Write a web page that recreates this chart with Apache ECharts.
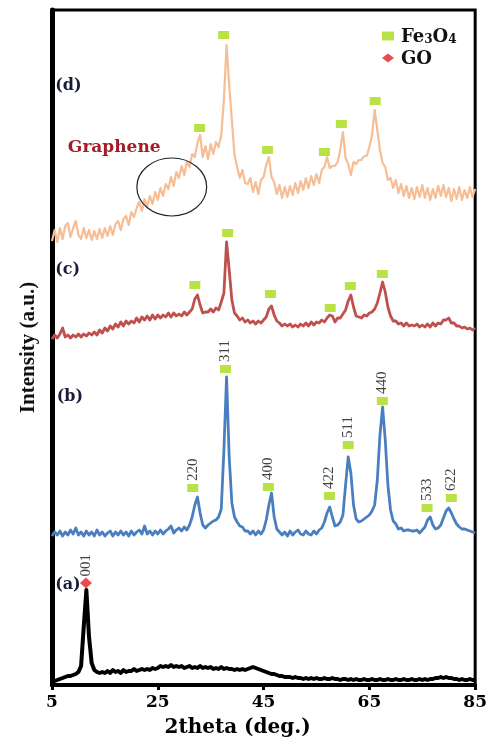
<!DOCTYPE html>
<html>
<head>
<meta charset="utf-8">
<script src="https://cdn.jsdelivr.net/npm/echarts@6/dist/echarts.min.js"></script>
<style>
  html, body { margin: 0; padding: 0; background: #fff; }
  #chart { width: 490px; height: 745px; }
</style>
</head>
<body>
<div id="chart"></div>
<script>
// 2θ sampling positions (degrees)
const twoTheta = [
  5, 5.5, 6, 6.5, 7, 7.5, 8, 8.5, 9, 9.5,
  10, 10.5, 11, 11.5, 12, 12.5, 13, 13.5, 14, 14.5,
  15, 15.5, 16, 16.5, 17, 17.5, 18, 18.5, 19, 19.5,
  20, 20.5, 21, 21.5, 22, 22.5, 23, 23.5, 24, 24.5,
  25, 25.5, 26, 26.5, 27, 27.5, 28, 28.5, 29, 29.5,
  30, 30.5, 31, 31.5, 32, 32.5, 33, 33.5, 34, 34.5,
  35, 35.5, 36, 36.5, 37, 37.5, 38, 38.5, 39, 39.5,
  40, 40.5, 41, 41.5, 42, 42.5, 43, 43.5, 44, 44.5,
  45, 45.5, 46, 46.5, 47, 47.5, 48, 48.5, 49, 49.5,
  50, 50.5, 51, 51.5, 52, 52.5, 53, 53.5, 54, 54.5,
  55, 55.5, 56, 56.5, 57, 57.5, 58, 58.5, 59, 59.5,
  60, 60.5, 61, 61.5, 62, 62.5, 63, 63.5, 64, 64.5,
  65, 65.5, 66, 66.5, 67, 67.5, 68, 68.5, 69, 69.5,
  70, 70.5, 71, 71.5, 72, 72.5, 73, 73.5, 74, 74.5,
  75, 75.5, 76, 76.5, 77, 77.5, 78, 78.5, 79, 79.5,
  80, 80.5, 81, 81.5, 82, 82.5, 83, 83.5, 84, 84.5,
  85
];

// (a) GO — stacked intensity, a.u.
const patternGO = [
  3, 4, 5, 6, 7, 8, 9, 9, 10, 11,
  13, 19, 58, 95, 48, 22, 15, 13, 12, 13,
  12, 14, 12, 15, 13, 14, 12, 15, 13, 14,
  14, 16, 14, 15, 16, 15, 16, 15, 17, 16,
  17, 19, 18, 19, 18, 20, 18, 19, 18, 19,
  17, 18, 19, 17, 18, 17, 19, 17, 18, 17,
  18, 16, 17, 16, 18, 16, 17, 16, 16, 15,
  16, 15, 16, 15, 16, 17, 18, 17, 16, 15,
  14, 13, 12, 11, 11, 10, 9, 9, 8, 8,
  8, 7, 8, 7, 7, 6, 7, 6, 7, 6,
  7, 6, 6, 7, 6, 6, 7, 6, 6, 5,
  6, 6, 5, 6, 5, 6, 5, 5, 6, 5,
  5, 6, 5, 5, 6, 5, 5, 6, 5, 5,
  6, 5, 5, 6, 5, 5, 6, 5, 5, 6,
  5, 6, 5, 6, 6, 7, 7, 8, 7, 8,
  7, 7, 6, 6, 5, 6, 5, 5, 6, 5,
  5
];

// (b) Fe3O4
const patternFe3O4 = [
  149, 153, 150, 154, 149, 153, 150, 155, 151, 157,
  150, 153, 149, 154, 150, 153, 149, 155, 150, 153,
  149, 152, 154, 149, 153, 150, 154, 150, 153, 149,
  154, 150, 153, 155, 151, 159, 151, 154, 150, 154,
  151, 155, 151, 154, 156, 159, 152, 155, 157, 154,
  158, 155, 160, 168, 180, 188, 172, 160, 157, 160,
  162, 164, 165, 168, 176, 235, 308, 228, 182, 168,
  163, 159, 158, 154, 154, 151, 154, 150, 154, 151,
  155, 165, 180, 192, 168, 156, 153, 150, 153, 149,
  154, 150, 153, 155, 151, 150, 154, 151, 150, 154,
  151, 155, 157, 163, 172, 178, 168, 159, 160, 163,
  170, 200, 228, 212, 180, 166, 163, 164, 166, 168,
  170, 174, 180, 205, 250, 278, 245, 200, 175, 164,
  161, 156, 157, 154, 155, 155, 154, 154, 155, 152,
  155, 158, 165, 168, 160, 156, 157, 160, 167, 174,
  177, 172, 166, 161, 158, 156, 156, 155, 154, 153,
  152
];

// (c) Fe3O4/GO composite
const patternComposite = [
  346, 350, 347, 351, 357, 348, 350, 347, 350, 348,
  351, 348, 351, 349, 352, 350, 353, 350, 355, 352,
  357, 354, 359, 356, 361, 358, 363, 359, 364, 361,
  364, 362, 367, 363, 368, 365, 369, 365, 370, 366,
  370, 367, 370, 368, 372, 368, 372, 369, 371, 369,
  373, 370, 373, 376, 386, 390, 380, 372, 373, 373,
  376, 373, 377, 375, 383, 392, 443, 415, 385, 372,
  369, 365, 367, 363, 365, 362, 364, 361, 364, 362,
  365, 368, 376, 379, 370, 364, 362, 359, 361, 359,
  361, 358, 360, 358, 361, 359, 362, 359, 363, 360,
  363, 362, 365, 363, 367, 370, 369, 363, 367, 367,
  371, 375, 384, 390, 378, 369, 368, 367, 370, 369,
  372, 373, 376, 382, 392, 403, 393, 378, 369, 364,
  364, 361, 362, 359, 362, 359, 360, 359, 361, 358,
  360, 358, 361, 358, 362, 359, 362, 361, 365, 365,
  367, 362, 362, 359, 359, 357, 358, 356, 357, 355,
  357
];

// (d) Fe3O4/graphene composite
const patternGraphene = [
  444, 455, 443, 457, 446, 459, 462, 448, 457, 464,
  450, 446, 457, 447, 455, 445, 454, 446, 456, 447,
  457, 449, 459, 450, 461, 464, 455, 466, 469, 460,
  473, 468, 477, 483, 474, 486, 478, 489, 481, 493,
  485, 497, 489, 501, 496, 508, 499, 513, 507, 519,
  510, 523, 518, 531, 528, 542, 550, 528, 539, 526,
  541, 531, 543, 538, 550, 585, 640, 600, 565, 530,
  518, 507, 515, 502, 501, 507, 493, 503, 491, 505,
  508, 520, 528, 508, 503, 491, 500, 487, 498, 488,
  499, 490, 502, 492, 504, 495, 507, 497, 509, 500,
  511, 502, 515, 518, 528, 517, 519, 519, 523, 535,
  553, 527, 521, 510, 523, 521, 525, 525, 529, 529,
  538, 550, 575, 555, 535, 522, 518, 505, 507, 497,
  505, 492, 501, 489, 499, 487, 497, 486, 498, 488,
  500, 487, 497, 485, 496, 487, 499, 489, 500, 488,
  497, 484, 496, 486, 498, 485, 495, 487, 498, 488,
  496
];

// Fe3O4 reflection markers [2θ, height] for each pattern
const feMarksD = [[32.9, 557], [37.45, 650], [45.75, 535], [56.5, 533], [59.7, 561], [66.1, 584]];
const feMarksC = [[32.0, 400], [38.2, 452], [46.3, 391], [57.6, 377], [61.4, 399], [67.45, 411]];
const feMarksB = [[31.6, 197], [37.8, 316], [45.9, 198], [57.45, 189], [61.0, 240], [67.45, 284], [75.9, 177], [80.5, 187]];
const hklB = ['220', '311', '400', '422', '511', '440', '533', '622'];

// GO (001) reflection marker
const goMark = [11.42, 102];
const goHkl = '001';

// x-axis ticks
const xTicks = [5, 25, 45, 65, 85];

// panel tags and annotations, in data coordinates
const panelTags = ['(a)', '(b)', '(c)', '(d)'];
const panelTagPos = [[5.6, 100], [5.9, 288], [5.6, 415], [5.6, 599]];
const grapheneTextPos = [8.0, 537];
const grapheneRing = { center: [27.64, 498], rx: 6.6, ry: 29 };

const serifWide = '"DejaVu Serif", serif';
const serifTimes = '"Liberation Serif", "Times New Roman", serif';

const chart = echarts.init(document.getElementById('chart'), null, { renderer: 'canvas' });

const toPairs = arr => twoTheta.map((t, i) => [t, arr[i]]);

const lineSeries = (name, arr, color, width) => ({
  name, type: 'line', data: toPairs(arr), symbol: 'none', silent: true,
  lineStyle: { color, width, join: 'round' }, z: 3
});

const hklLabel = {
  show: true, position: 'top', rotate: 90, align: 'left', verticalAlign: 'middle',
  distance: 3, fontFamily: serifTimes, fontSize: 15, color: '#111'
};

const feData = [
  ...feMarksD.map(p => ({ value: p })),
  ...feMarksC.map(p => ({ value: p })),
  ...feMarksB.map((p, i) => ({ value: p, label: Object.assign({ formatter: hklB[i] }, hklLabel) }))
];

chart.setOption({
  animation: false,
  grid: { left: 52, right: 14, top: 10, bottom: 60, show: true, borderColor: '#000', borderWidth: 3 },
  xAxis: {
    type: 'value', min: xTicks[0], max: xTicks[xTicks.length - 1], interval: 20,
    name: '2theta (deg.)', nameLocation: 'middle', nameGap: 33,
    nameTextStyle: { fontFamily: serifWide, fontWeight: 'bold', fontSize: 20, color: '#000', padding: [0, 52, 0, 0] },
    axisLine: { lineStyle: { color: '#000', width: 4 } },
    axisTick: { show: true, inside: false, length: 5, lineStyle: { color: '#000', width: 3 } },
    axisLabel: { fontFamily: serifWide, fontWeight: 'bold', fontSize: 17, color: '#000', margin: 9 },
    splitLine: { show: false }
  },
  yAxis: {
    type: 'value', min: 0, max: 675,
    name: 'Intensity (a.u.)', nameLocation: 'middle', nameGap: 13,
    nameTextStyle: { fontFamily: serifTimes, fontWeight: 'bold', fontSize: 21, color: '#111' },
    axisLine: { show: true, lineStyle: { color: '#000', width: 5 } },
    axisTick: { show: false },
    axisLabel: { show: false },
    splitLine: { show: false }
  },
  legend: {
    orient: 'vertical', left: 377, top: 23, itemGap: 4,
    itemWidth: 12, itemHeight: 9,
    data: [{ name: 'Fe3O4', icon: 'rect' }, { name: 'GO', icon: 'diamond' }],
    formatter: n => n === 'Fe3O4' ? '{b|Fe}{s|3}{b|O}{s|4}' : '{b|GO}',
    textStyle: {
      padding: [0, 0, 0, 2],
      rich: {
        b: { fontFamily: serifWide, fontWeight: 'bold', fontSize: 18, lineHeight: 20, color: '#111', verticalAlign: 'bottom' },
        s: { fontFamily: serifWide, fontWeight: 'bold', fontSize: 12, lineHeight: 14, color: '#111', verticalAlign: 'bottom' }
      }
    }
  },
  series: [
    lineSeries('(a)', patternGO, '#000000', 4),
    lineSeries('(b)', patternFe3O4, '#4a7fbf', 2.8),
    lineSeries('(c)', patternComposite, '#c0504d', 2.8),
    lineSeries('(d)', patternGraphene, '#f7bd95', 2.2),
    {
      name: 'Fe3O4', type: 'scatter', symbol: 'rect', symbolSize: [11, 8],
      itemStyle: { color: '#a8dc16' }, data: feData, label: { show: false }, z: 5, silent: true
    },
    {
      name: 'GO', type: 'scatter', symbol: 'diamond', symbolSize: [12, 11],
      itemStyle: { color: '#e51e25' },
      data: [{ value: goMark, label: Object.assign({ formatter: goHkl }, hklLabel, { distance: 1 }) }],
      z: 5, silent: true
    }
  ]
});

// annotations placed from data coordinates
const toPx = p => chart.convertToPixel({ gridIndex: 0 }, p);
const graphics = panelTags.map((t, i) => {
  const p = toPx(panelTagPos[i]);
  return {
    type: 'text', x: p[0], y: p[1], z: 100,
    style: { text: t, font: 'bold 16px ' + serifWide, fill: '#1a1a3a', align: 'left', verticalAlign: 'middle' }
  };
});
const gp = toPx(grapheneTextPos);
graphics.push({
  type: 'text', x: gp[0], y: gp[1], z: 100,
  style: { text: 'Graphene', font: 'bold 17px ' + serifWide, fill: '#a31d26', align: 'left', verticalAlign: 'middle' }
});
const rc = toPx(grapheneRing.center);
const rEdgeX = toPx([grapheneRing.center[0] + grapheneRing.rx, grapheneRing.center[1]]);
const rEdgeY = toPx([grapheneRing.center[0], grapheneRing.center[1] + grapheneRing.ry]);
graphics.push({
  type: 'ellipse', z: 100,
  shape: { cx: rc[0], cy: rc[1], rx: Math.abs(rEdgeX[0] - rc[0]), ry: Math.abs(rc[1] - rEdgeY[1]) },
  style: { fill: 'none', stroke: '#222', lineWidth: 1.2 }
});
chart.setOption({ graphic: graphics });
</script>
</body>
</html>
